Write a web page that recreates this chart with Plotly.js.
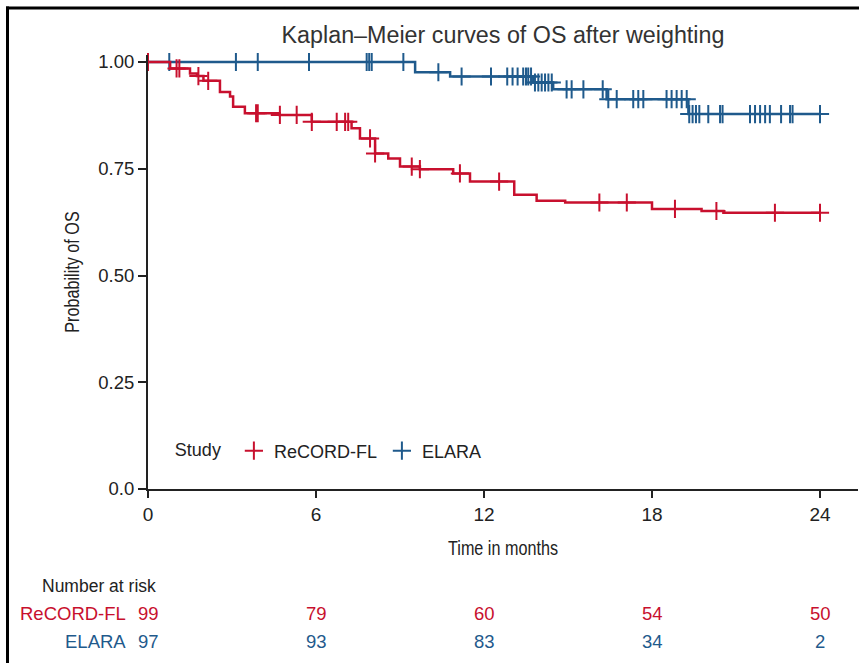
<!DOCTYPE html>
<html>
<head>
<meta charset="utf-8">
<script src="https://cdn.plot.ly/plotly-3.0.1.min.js"></script>
<style>
html,body{margin:0;padding:0;background:#fff;}
#chart{width:859px;height:663px;}
</style>
</head>
<body>
<div id="chart"></div>
<script>
// ---------- data ----------
var groups = ["ReCORD-FL", "ELARA"];
// ReCORD-FL step curve (time in months, survival probability after each step)
var recordTimes = [0, 0.79, 1.5, 1.75, 1.98, 2.57, 2.93, 3.04, 3.46, 4.7, 5.85, 7.27, 7.57, 8.11, 8.58, 9.0, 9.71, 10.9, 11.5, 13.08, 13.88, 14.9, 18.0, 19.77, 20.55, 24];
var recordSurv  = [1.0, 0.985, 0.973, 0.967, 0.956, 0.930, 0.919, 0.895, 0.880, 0.876, 0.860, 0.845, 0.821, 0.786, 0.774, 0.755, 0.749, 0.739, 0.720, 0.689, 0.675, 0.671, 0.656, 0.651, 0.647, 0.647];
var recordCensor = [0, 1.02, 1.12, 1.8, 2.15, 3.86, 3.92, 4.71, 5.31, 5.85, 6.74, 7.04, 7.15, 7.93, 8.11, 9.42, 9.71, 11.14, 12.54, 16.12, 17.1, 18.82, 20.3, 22.39, 24];
// ELARA step curve
var elaraTimes = [0, 9.54, 10.79, 13.76, 14.47, 16.38, 19.3, 24];
var elaraSurv  = [1.0, 0.976, 0.966, 0.952, 0.936, 0.913, 0.878, 0.878];
var elaraCensor = [0, 0.76, 3.14, 3.92, 5.75, 7.81, 7.9, 7.99, 9.12, 10.37, 11.2, 12.25,
  12.83, 13.02, 13.2, 13.4, 13.5, 13.58, 13.68, 13.82, 13.94, 14.06, 14.18, 14.3, 14.42,
  14.95, 15.13, 15.55, 16.24, 16.44, 16.74, 17.33, 17.51, 17.69,
  18.52, 18.7, 18.88, 19.06, 19.24, 19.33, 19.45, 19.57, 19.69, 20.01, 20.43, 20.52,
  21.5, 21.68, 21.86, 22.04, 22.21, 22.61, 22.93, 23.02, 24];
// number at risk
var riskTimes = [0, 6, 12, 18, 24];
var riskRecord = [99, 79, 60, 54, 50];
var riskElara = [97, 93, 83, 34, 2];
var yTickVals = [0, 0.25, 0.5, 0.75, 1.0];
var yTickText = ["0.0", "0.25", "0.50", "0.75", "1.00"];
var xTickVals = [0, 6, 12, 18, 24];

// ---------- style ----------
var RED = "#C8102E", BLUE = "#1F5A8C", INK = "#222222";
var FONT = "Liberation Sans, Arial, Helvetica, sans-serif";

function stepValue(times, surv, t) {
  var v = surv[0];
  for (var i = 0; i < times.length; i++) { if (times[i] <= t) v = surv[i]; }
  return v;
}
function censorY(times, surv, cens) { return cens.map(function (t) { return stepValue(times, surv, t); }); }

var traces = [
  {x: elaraTimes, y: elaraSurv, mode: "lines", line: {shape: "hv", color: BLUE, width: 2.5}, showlegend: false, hoverinfo: "skip"},
  {x: elaraCensor, y: censorY(elaraTimes, elaraSurv, elaraCensor), mode: "markers", name: groups[1], legendrank: 2,
   marker: {symbol: "cross-thin", size: 13, color: BLUE, line: {color: BLUE, width: 2}}, cliponaxis: false},
  {x: recordTimes, y: recordSurv, mode: "lines", line: {shape: "hv", color: RED, width: 2.5}, showlegend: false, hoverinfo: "skip"},
  {x: recordCensor, y: censorY(recordTimes, recordSurv, recordCensor), mode: "markers", name: groups[0], legendrank: 1,
   marker: {symbol: "cross-thin", size: 13, color: RED, line: {color: RED, width: 2}}, cliponaxis: false}
];

// plot area geometry helpers (pixel -> paper)
var L = 148, T = 55, W = 710, H = 434;
function py(pix) { return (T + H - pix) / H; }
function px(pix) { return (pix - L) / W; }

var ann = [];
ann.push({text: "Number at risk", xref: "paper", yref: "paper", x: px(40), y: py(586), xanchor: "left", yanchor: "middle", showarrow: false, font: {family: FONT, size: 17.5, color: INK}});
ann.push({text: groups[0], xref: "paper", yref: "paper", x: px(128), y: py(613), xanchor: "right", yanchor: "middle", showarrow: false, font: {family: FONT, size: 18.5, color: RED}});
ann.push({text: groups[1], xref: "paper", yref: "paper", x: px(128), y: py(641), xanchor: "right", yanchor: "middle", showarrow: false, font: {family: FONT, size: 18.5, color: BLUE}});
riskTimes.forEach(function (t, i) {
  ann.push({text: String(riskRecord[i]), xref: "x", yref: "paper", x: t, y: py(613), xanchor: "center", yanchor: "middle", showarrow: false, font: {family: FONT, size: 18.5, color: RED}});
  ann.push({text: String(riskElara[i]), xref: "x", yref: "paper", x: t, y: py(641), xanchor: "center", yanchor: "middle", showarrow: false, font: {family: FONT, size: 18.5, color: BLUE}});
});

var layout = {
  width: 859, height: 663,
  margin: {l: L, r: 859 - L - W, t: T, b: 663 - T - H},
  paper_bgcolor: "#ffffff", plot_bgcolor: "#ffffff",
  font: {family: FONT, color: INK, size: 16},
  title: {text: "Kaplan\u2013Meier curves of OS after weighting", font: {family: FONT, size: 23.3, color: "#333333"},
          x: 0.5, xref: "paper", y: 1 - 35 / 663, yref: "container", yanchor: "middle"},
  xaxis: {range: [0, W / 28], tickvals: xTickVals, ticks: "outside", ticklen: 7, tickwidth: 2, tickcolor: INK,
          showline: true, linecolor: INK, linewidth: 2, showgrid: false, zeroline: false,
          tickfont: {family: FONT, size: 19, color: INK},
          title: {text: "Time in months", font: {family: FONT, size: 19.5, color: INK}, standoff: 18}},
  yaxis: {range: [0, H / 427], tickvals: yTickVals, ticktext: yTickText, ticks: "outside", ticklen: 8, tickwidth: 2, tickcolor: INK,
          showline: true, linecolor: INK, linewidth: 2, showgrid: false, zeroline: false,
          tickfont: {family: FONT, size: 18.5, color: INK},
          title: {text: "Probability of OS", font: {family: FONT, size: 19.5, color: INK}, standoff: 13}},
  showlegend: true,
  legend: {orientation: "h", x: 0.035, xanchor: "left", y: py(451), yanchor: "middle", bgcolor: "rgba(0,0,0,0)",
           title: {text: "Study ", side: "left", font: {family: FONT, size: 18, color: INK}},
           font: {family: FONT, size: 18, color: INK}, itemwidth: 30, traceorder: "normal"},
  annotations: ann,
  shapes: [
    {type: "line", xref: "paper", yref: "paper", x0: px(7.5), x1: px(7.5), y0: py(6.5), y1: py(670), line: {color: "#000", width: 3}},
    {type: "line", xref: "paper", yref: "paper", x0: px(6), x1: px(870), y0: py(8), y1: py(8), line: {color: "#000", width: 3}}
  ]
};

// axis titles in the reference use a condensed face: narrow them horizontally
function condense(sel, k) {
  var el = document.querySelector(sel);
  if (!el) return;
  var x = parseFloat(el.getAttribute("x")), y = parseFloat(el.getAttribute("y"));
  var prev = el.getAttribute("transform") || "";
  el.setAttribute("transform", prev + " translate(" + x + "," + y + ") scale(" + k + ",1) translate(" + (-x) + "," + (-y) + ")");
}

Plotly.newPlot("chart", traces, layout, {staticPlot: true, displayModeBar: false}).then(function () {
  condense("#chart .xtitle", 0.83);
  condense("#chart .ytitle", 0.83);
});
</script>
</body>
</html>
